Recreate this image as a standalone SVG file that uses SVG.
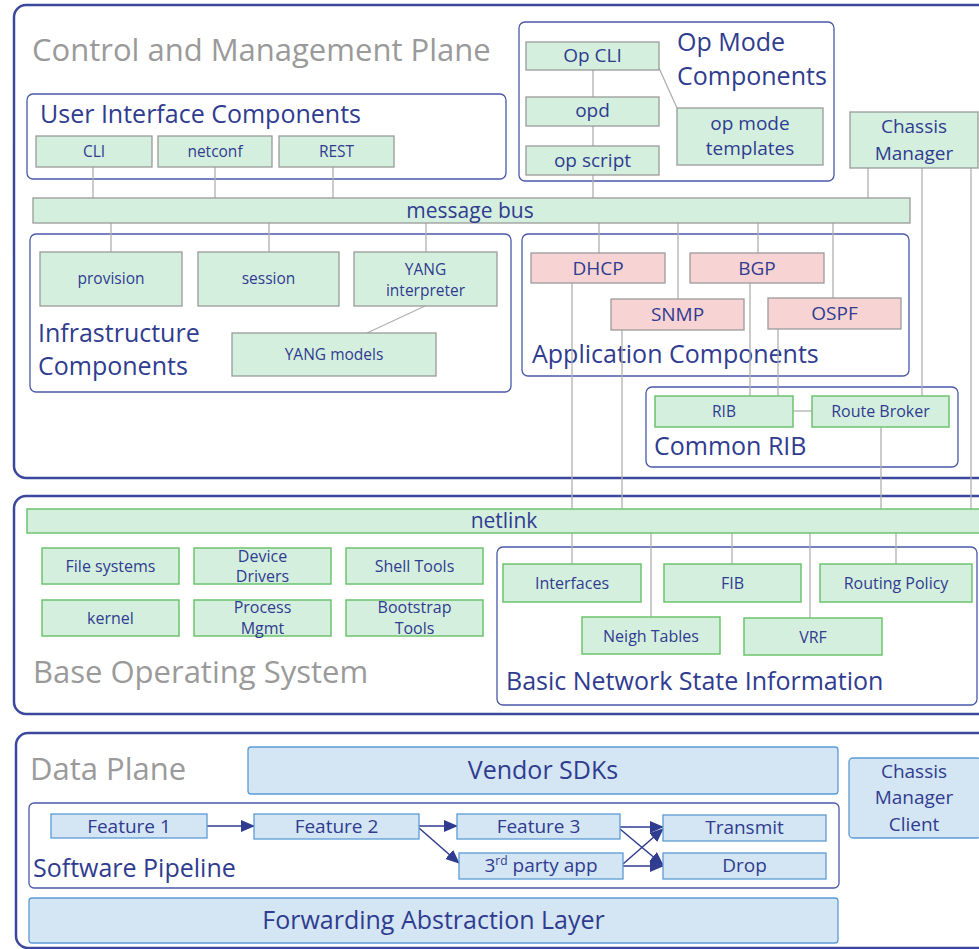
<svg xmlns="http://www.w3.org/2000/svg" width="979" height="949" viewBox="0 0 979 949">
<defs>
<style>
text{font-family:"Open Sans","Liberation Sans",sans-serif;fill:#2f3c8f}
.plane{fill:none;stroke:#3b489e;stroke-width:2.5}
.cont{fill:none;stroke:#4a58a8;stroke-width:1.3}
.ptitle{fill:#9a9a9a;font-size:31px}
.ctitle{font-size:25px}
.g{fill:#d5efdf;stroke:#9a9a9a;stroke-width:1.3}
.gg{fill:#d5efdf;stroke:#6cc36c;stroke-width:1.5}
.p{fill:#f8d3d4;stroke:#9a9a9a;stroke-width:1.3}
.b{fill:#d4e5f4;stroke:#5b9bd5;stroke-width:1.3}
.s15{font-size:15.5px;text-anchor:middle}
.s16{font-size:16px;text-anchor:middle}
.s18{font-size:21px;text-anchor:middle}
.s19{font-size:19px;text-anchor:middle}
.s25{font-size:25px;text-anchor:middle}
.ln{stroke:#b0b0b0;stroke-width:1.3;fill:none}
.ar{stroke:#2f3c8f;stroke-width:1.5;fill:none;marker-end:url(#ah)}
</style>
<marker id="ah" markerUnits="userSpaceOnUse" markerWidth="14" markerHeight="12" refX="13" refY="6" orient="auto">
<path d="M0,0 L14,6 L0,12 z" fill="#2f3c8f"/>
</marker>
</defs>
<rect width="979" height="949" fill="#ffffff"/>

<g id="control-plane">
<rect class="plane" x="14" y="5" width="1000" height="473" rx="12"/>
<text class="ptitle" x="32" y="61">Control and Management Plane</text>
</g>
<g id="base-os">
<rect class="plane" x="14" y="496" width="1000" height="218" rx="12"/>
<text class="ptitle" x="33" y="683">Base Operating System</text>
</g>
<g id="data-plane">
<rect class="plane" x="16" y="733" width="1000" height="215" rx="12"/>
<text class="ptitle" x="30" y="780">Data Plane</text>
</g>

<g id="ui-components">
<rect class="cont" x="27" y="94" width="479" height="85" rx="6"/>
<text class="ctitle" x="40" y="123">User Interface Components</text>
</g>
<g id="opmode-components">
<rect class="cont" x="519" y="22" width="315" height="159" rx="6"/>
<text class="ctitle" x="677" y="51">Op Mode</text>
<text class="ctitle" x="677" y="85">Components</text>
</g>
<g id="infra-components">
<rect class="cont" x="30" y="234" width="481" height="158" rx="6"/>
<text class="ctitle" x="38" y="342">Infrastructure</text>
<text class="ctitle" x="38" y="375">Components</text>
</g>
<g id="app-components">
<rect class="cont" x="522" y="234" width="387" height="142" rx="6"/>
<text class="ctitle" x="532" y="363">Application Components</text>
</g>
<g id="common-rib">
<rect class="cont" x="646" y="387" width="312" height="80" rx="6"/>
<text class="ctitle" x="654" y="455">Common RIB</text>
</g>
<g id="bnsi">
<rect class="cont" x="497" y="547" width="480" height="158" rx="6"/>
<text class="ctitle" x="506" y="690">Basic Network State Information</text>
</g>
<g id="software-pipeline">
<rect class="cont" x="29" y="803" width="810" height="85" rx="5"/>
<text class="ctitle" x="33" y="877">Software Pipeline</text>
</g>

<g id="connectors">
<line class="ln" x1="93" y1="167" x2="93" y2="198"/>
<line class="ln" x1="215" y1="167" x2="215" y2="198"/>
<line class="ln" x1="333" y1="167" x2="333" y2="198"/>
<line class="ln" x1="111" y1="223" x2="111" y2="252"/>
<line class="ln" x1="269" y1="223" x2="269" y2="252"/>
<line class="ln" x1="426" y1="223" x2="426" y2="252"/>
<line class="ln" x1="425" y1="306" x2="367" y2="333"/>
<line class="ln" x1="593" y1="70" x2="593" y2="97"/>
<line class="ln" x1="593" y1="126" x2="593" y2="146"/>
<line class="ln" x1="593" y1="175" x2="593" y2="198"/>
<line class="ln" x1="659" y1="68" x2="677" y2="108"/>
<line class="ln" x1="868" y1="168" x2="868" y2="198"/>
<line class="ln" x1="599" y1="223" x2="599" y2="253"/>
<line class="ln" x1="678" y1="223" x2="678" y2="299"/>
<line class="ln" x1="758" y1="223" x2="758" y2="253"/>
<line class="ln" x1="833" y1="223" x2="833" y2="298"/>
<line class="ln" x1="572" y1="283" x2="572" y2="564"/>
<line class="ln" x1="622" y1="330" x2="622" y2="509"/>
<line class="ln" x1="750" y1="283" x2="750" y2="396"/>
<line class="ln" x1="778" y1="329" x2="778" y2="396"/>
<line class="ln" x1="793" y1="411" x2="812" y2="411"/>
<line class="ln" x1="922" y1="168" x2="922" y2="396"/>
<line class="ln" x1="971" y1="168" x2="971" y2="509"/>
<line class="ln" x1="881" y1="427" x2="881" y2="509"/>
<line class="ln" x1="651" y1="533" x2="651" y2="617"/>
<line class="ln" x1="732" y1="533" x2="732" y2="564"/>
<line class="ln" x1="810" y1="533" x2="810" y2="618"/>
<line class="ln" x1="896" y1="533" x2="896" y2="564"/>
<line class="ar" x1="207" y1="826" x2="254" y2="826"/>
<line class="ar" x1="419" y1="826" x2="457" y2="826"/>
<line class="ar" x1="419" y1="828" x2="459" y2="863"/>
<line class="ar" x1="620" y1="827" x2="663" y2="827"/>
<line class="ar" x1="620" y1="829" x2="663" y2="865"/>
<line class="ar" x1="623" y1="864" x2="663" y2="829"/>
<line class="ar" x1="623" y1="866" x2="663" y2="866"/>
</g>

<g id="cli"><rect class="g" x="36" y="136" width="116" height="31"/><text class="s15" x="94" y="157">CLI</text></g>
<g id="netconf"><rect class="g" x="158" y="136" width="114" height="31"/><text class="s15" x="215" y="157">netconf</text></g>
<g id="rest"><rect class="g" x="279" y="136" width="115" height="31"/><text class="s15" x="336.5" y="157">REST</text></g>
<g id="message-bus"><rect class="g" x="33" y="198" width="877" height="25"/><text class="s18" x="470" y="218">message bus</text></g>
<g id="provision"><rect class="g" x="40" y="252" width="142" height="54"/><text class="s15" x="111" y="284">provision</text></g>
<g id="session"><rect class="g" x="198" y="252" width="141" height="54"/><text class="s15" x="268.5" y="284">session</text></g>
<g id="yang-interpreter"><rect class="g" x="354" y="252" width="143" height="54"/><text class="s15" x="425.5" y="275">YANG</text><text class="s15" x="425.5" y="296">interpreter</text></g>
<g id="yang-models"><rect class="g" x="232" y="333" width="204" height="43"/><text class="s15" x="334" y="360">YANG models</text></g>
<g id="op-cli"><rect class="g" x="526" y="42" width="133" height="28"/><text class="s19" x="592.5" y="62">Op CLI</text></g>
<g id="opd"><rect class="g" x="526" y="97" width="133" height="29"/><text class="s19" x="592.5" y="117">opd</text></g>
<g id="op-script"><rect class="g" x="526" y="146" width="133" height="29"/><text class="s19" x="592.5" y="167">op script</text></g>
<g id="op-mode-templates"><rect class="g" x="677" y="108" width="146" height="57"/><text class="s19" x="750" y="130">op mode</text><text class="s19" x="750" y="155">templates</text></g>
<g id="chassis-manager"><rect class="g" x="850" y="112" width="128" height="56"/><text class="s19" x="914" y="133">Chassis</text><text class="s19" x="914" y="160">Manager</text></g>
<g id="dhcp"><rect class="p" x="531" y="253" width="134" height="30"/><text class="s19" x="598" y="275">DHCP</text></g>
<g id="bgp"><rect class="p" x="690" y="253" width="134" height="30"/><text class="s19" x="757" y="275">BGP</text></g>
<g id="snmp"><rect class="p" x="611" y="299" width="133" height="31"/><text class="s19" x="677.5" y="321">SNMP</text></g>
<g id="ospf"><rect class="p" x="768" y="298" width="133" height="31"/><text class="s19" x="834.5" y="320">OSPF</text></g>
<g id="rib"><rect class="gg" x="655" y="396" width="138" height="31"/><text class="s15" x="724" y="417">RIB</text></g>
<g id="route-broker"><rect class="gg" x="812" y="396" width="137" height="31"/><text class="s16" x="880.5" y="417">Route Broker</text></g>
<g id="netlink"><rect class="gg" x="27" y="509" width="990" height="24"/><text class="s18" x="504" y="528">netlink</text></g>
<g id="file-systems"><rect class="gg" x="42" y="548" width="137" height="36"/><text class="s16" x="110.5" y="572">File systems</text></g>
<g id="device-drivers"><rect class="gg" x="194" y="548" width="137" height="36"/><text class="s16" x="262.5" y="562">Device</text><text class="s16" x="262.5" y="582">Drivers</text></g>
<g id="shell-tools"><rect class="gg" x="346" y="548" width="137" height="36"/><text class="s16" x="414.5" y="572">Shell Tools</text></g>
<g id="kernel"><rect class="gg" x="42" y="600" width="137" height="36"/><text class="s16" x="110.5" y="624">kernel</text></g>
<g id="process-mgmt"><rect class="gg" x="194" y="600" width="137" height="36"/><text class="s16" x="262.5" y="613">Process</text><text class="s16" x="262.5" y="634">Mgmt</text></g>
<g id="bootstrap-tools"><rect class="gg" x="346" y="600" width="137" height="36"/><text class="s16" x="414.5" y="613">Bootstrap</text><text class="s16" x="414.5" y="634">Tools</text></g>
<g id="interfaces"><rect class="gg" x="503" y="564" width="138" height="38"/><text class="s16" x="572" y="589">Interfaces</text></g>
<g id="fib"><rect class="gg" x="664" y="564" width="137" height="38"/><text class="s16" x="732.5" y="589">FIB</text></g>
<g id="routing-policy"><rect class="gg" x="820" y="564" width="152" height="38"/><text class="s16" x="896" y="589">Routing Policy</text></g>
<g id="neigh-tables"><rect class="gg" x="582" y="617" width="138" height="37"/><text class="s16" x="651" y="642">Neigh Tables</text></g>
<g id="vrf"><rect class="gg" x="744" y="618" width="138" height="37"/><text class="s16" x="813" y="643">VRF</text></g>
<g id="vendor-sdks"><rect class="b" x="248" y="747" width="590" height="47" rx="3"/><text class="s25" x="543" y="779">Vendor SDKs</text></g>
<g id="feature-1"><rect class="b" x="51" y="814" width="156" height="24"/><text class="s19" x="129" y="833">Feature 1</text></g>
<g id="feature-2"><rect class="b" x="254" y="814" width="165" height="25"/><text class="s19" x="336.5" y="833">Feature 2</text></g>
<g id="feature-3"><rect class="b" x="457" y="814" width="163" height="25"/><text class="s19" x="538.5" y="833">Feature 3</text></g>
<g id="third-party-app"><rect class="b" x="459" y="853" width="164" height="26"/><text class="s19" x="541" y="872">3<tspan font-size="12" dy="-7">rd</tspan><tspan dy="7"> party app</tspan></text></g>
<g id="transmit"><rect class="b" x="663" y="815" width="163" height="26"/><text class="s19" x="744.5" y="834">Transmit</text></g>
<g id="drop"><rect class="b" x="663" y="853" width="163" height="26"/><text class="s19" x="744.5" y="872">Drop</text></g>
<g id="forwarding-abstraction-layer"><rect class="b" x="29" y="898" width="809" height="45" rx="3"/><text class="s25" x="433.5" y="929">Forwarding Abstraction Layer</text></g>
<g id="chassis-manager-client"><rect class="b" x="849" y="758" width="132" height="80" rx="4"/><text class="s19" x="914" y="778">Chassis</text><text class="s19" x="914" y="804">Manager</text><text class="s19" x="914" y="831">Client</text></g>
</svg>
